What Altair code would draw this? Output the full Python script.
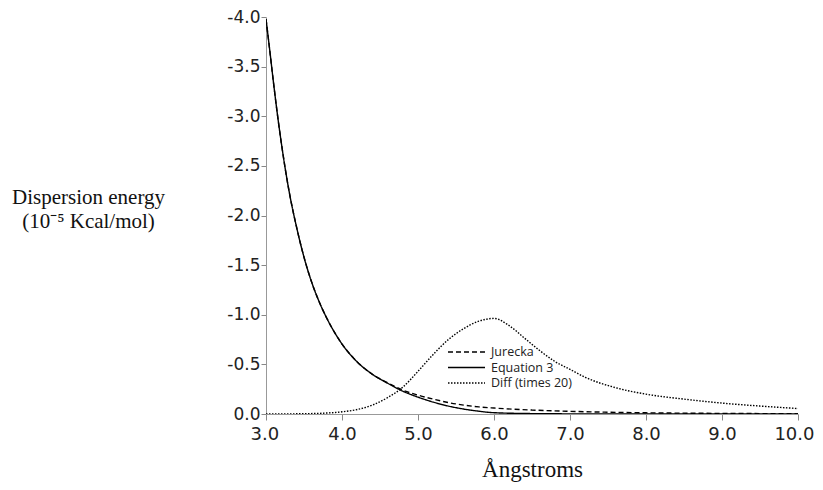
import altair as alt
import pandas as pd

series_names = ["Jurecka", "Equation 3", "Diff (times 20)"]

eq3_x = [3.0, 3.05, 3.1, 3.15, 3.2, 3.3, 3.4, 3.5, 3.6, 3.7, 3.8, 3.9, 4.0, 4.2, 4.4, 4.6, 4.8, 5.0, 5.2, 5.4, 5.6, 5.8, 6.0, 6.5, 7.0, 8.0, 9.0, 10.0]
eq3_y = [-3.98, -3.66, -3.33, -3.02, -2.74, -2.26, -1.89, -1.58, -1.33, -1.13, -0.965, -0.825, -0.705, -0.525, -0.40, -0.31, -0.23, -0.17, -0.12, -0.08, -0.05, -0.028, -0.013, -0.004, -0.0015, -0.0005, 0.0, 0.0]

jur_x = [3.0, 3.05, 3.1, 3.15, 3.2, 3.3, 3.4, 3.5, 3.6, 3.7, 3.8, 3.9, 4.0, 4.2, 4.4, 4.6, 4.8, 5.0, 5.2, 5.4, 5.6, 5.8, 6.0, 6.5, 7.0, 7.5, 8.0, 9.0, 10.0]
jur_y = [-3.98, -3.66, -3.33, -3.02, -2.74, -2.26, -1.89, -1.58, -1.33, -1.13, -0.965, -0.825, -0.705, -0.525, -0.40, -0.315, -0.24, -0.19, -0.15, -0.115, -0.09, -0.072, -0.06, -0.04, -0.027, -0.018, -0.012, -0.006, -0.003]

diff_x = [3.0, 3.5, 3.8, 4.0, 4.2, 4.4, 4.6, 4.8, 5.0, 5.2, 5.4, 5.6, 5.8, 6.0, 6.2, 6.4, 6.6, 6.8, 7.0, 7.2, 7.6, 8.0, 8.5, 9.0, 9.5, 10.0]
diff_y = [0.0, -0.003, -0.01, -0.022, -0.045, -0.09, -0.165, -0.27, -0.43, -0.6, -0.75, -0.86, -0.935, -0.963, -0.89, -0.765, -0.64, -0.53, -0.45, -0.37, -0.265, -0.2, -0.15, -0.11, -0.08, -0.055]

x_ticks = [3, 4, 5, 6, 7, 8, 9, 10]
y_ticks = [0, -0.5, -1.0, -1.5, -2.0, -2.5, -3.0, -3.5, -4.0]

frames = []
for name, xs, ys in [("Jurecka", jur_x, jur_y), ("Equation 3", eq3_x, eq3_y), ("Diff (times 20)", diff_x, diff_y)]:
    frames.append(pd.DataFrame({"x": xs, "y": ys, "series": name, "order": range(len(xs))}))
df = pd.concat(frames, ignore_index=True)

label_expr = "(datum.value < 0 ? '-' : '') + format(abs(datum.value), '.1f')"

chart = alt.Chart(df).mark_line(strokeWidth=1.4, color="black", interpolate="monotone", clip=True).encode(
    x=alt.X("x:Q",
            scale=alt.Scale(domain=[3, 10], nice=False, zero=False),
            axis=alt.Axis(values=x_ticks, labelExpr=label_expr, grid=False,
                          labelFlush=True, labelFlushOffset=16,
                          title="Ångstroms", titleFont="Liberation Serif", titleFontSize=23,
                          titleFontWeight="normal", titleColor="#111",
                          titleBaseline="alphabetic", titleY=62,
                          labelFont="DejaVu Sans", labelFontSize=18, labelColor="#222",
                          tickSize=6, tickColor="#888", domainColor="#999",
                          labelPadding=5)),
    y=alt.Y("y:Q",
            scale=alt.Scale(domain=[-4, 0], reverse=True, nice=False, zero=False),
            axis=alt.Axis(values=y_ticks, labelExpr=label_expr, grid=False, labelFlush=False,
                          title=["Dispersion energy", "(10⁻⁵ Kcal/mol)"],
                          titleFont="Liberation Serif", titleFontSize=21, titleFontWeight="normal",
                          titleColor="#111", titleAngle=0, titleAlign="center",
                          titleBaseline="alphabetic", titleX=-178, titleY=186, titleLineHeight=24,
                          labelFont="DejaVu Sans", labelFontSize=17, labelColor="#222",
                          tickSize=5, tickColor="#888", domainColor="#999",
                          labelPadding=1)),
    strokeDash=alt.StrokeDash("series:N",
                              scale=alt.Scale(domain=series_names, range=[[5, 3], [1, 0], [1.5, 1.5]]),
                              legend=alt.Legend(title=None, orient="none", legendX=181, legendY=328,
                                                symbolType="stroke", symbolSize=1369,
                                                symbolStrokeWidth=1.4, symbolStrokeColor="black",
                                                clipHeight=14, rowPadding=1.5, padding=0,
                                                labelFont="Open Sans", labelFontSize=12.5,
                                                labelColor="#222", labelOffset=5)),
    order="order:Q",
).properties(
    width=532, height=397,
    autosize=alt.AutoSizeParams(type="none"),
    padding={"left": 258, "top": 9, "right": 17, "bottom": 68},
).configure_view(stroke=None)

chart.save("out.html", embed_options={"renderer": "svg", "actions": False})
